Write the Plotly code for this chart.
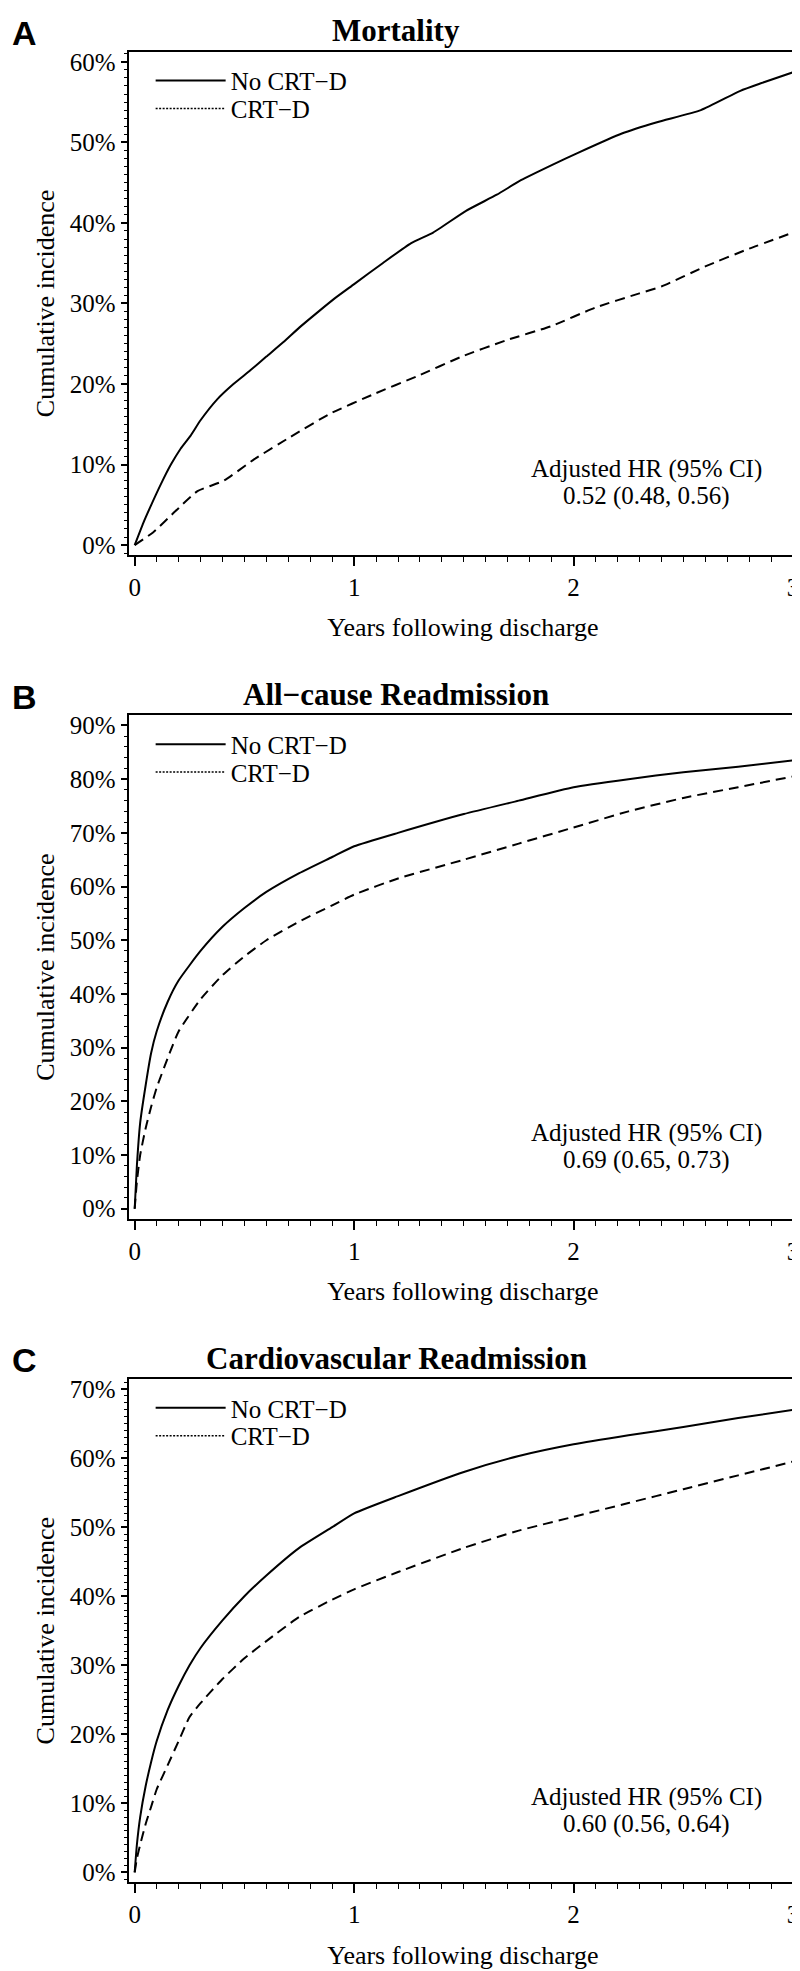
import plotly.graph_objects as go

# ---------------- data (years, cumulative incidence %) ----------------
mort_no_x = [0, 0.04, 0.074, 0.12, 0.165, 0.21, 0.255, 0.3, 0.376, 0.45, 0.527, 0.6, 0.678, 0.75, 0.829, 0.91, 1.0,
             1.13, 1.26, 1.36, 1.51, 1.65, 1.76, 1.91, 2.02, 2.22, 2.38, 2.58, 2.76, 2.85, 3.0]
mort_no_y = [0, 2.8, 4.9, 7.6, 10.0, 12.0, 13.6, 15.5, 18.1, 20.0, 21.7, 23.4, 25.2, 27.0, 28.8, 30.6, 32.4,
             35.0, 37.5, 38.8, 41.5, 43.5, 45.3, 47.3, 48.7, 51.1, 52.5, 54.0, 56.4, 57.3, 58.7]
mort_crt_x = [0, 0.085, 0.185, 0.286, 0.406, 0.547, 0.708, 0.889, 1.09, 1.29, 1.49, 1.69, 1.9, 2.1, 2.3, 2.4,
              2.6, 2.8, 3.0]
mort_crt_y = [0, 1.6, 4.2, 6.7, 8.0, 10.7, 13.4, 16.3, 18.75, 21.0, 23.4, 25.4, 27.2, 29.5, 31.25, 32.1,
              34.6, 36.8, 38.8]

allc_x = [0, 0.01, 0.025, 0.05, 0.075, 0.1, 0.15, 0.2, 0.3, 0.4, 0.5, 0.6, 0.75, 0.9, 1.0, 1.2, 1.5, 1.75,
          2.0, 2.25, 2.5, 2.75, 3.0]
allc_no_y = [0, 8, 16, 23, 29, 33, 38.5, 42.5, 48, 52.5, 56, 59, 62.5, 65.5, 67.5, 70, 73.5, 76,
             78.5, 80, 81.3, 82.3, 83.5]
allc_crt_y = [0, 5, 10, 15, 19, 22.5, 28, 33, 39, 43.5, 47, 50, 53.5, 56.5, 58.5, 61.5, 65, 68,
              71, 74, 76.5, 78.5, 80.5]

cv_x = [0, 0.01, 0.025, 0.05, 0.075, 0.1, 0.15, 0.2, 0.25, 0.3, 0.4, 0.5, 0.6, 0.75, 0.9, 1.0, 1.2, 1.5,
        1.75, 2.0, 2.25, 2.5, 2.75, 3.0]
cv_no_y = [0, 4, 8, 12.5, 16, 19, 23.5, 27, 30, 32.5, 36.5, 40, 43, 47, 50, 52, 54.5, 58,
           60.3, 62, 63.3, 64.5, 65.8, 67]
cv_crt_y = [0, 2, 4, 7, 9.5, 12, 15.5, 19, 22.5, 24.5, 28, 31, 33.5, 37, 39.5, 41, 43.5, 47,
            49.5, 51.5, 53.5, 55.5, 57.5, 59.5]

panel_letters = ["A", "B", "C"]
panel_titles = ["Mortality", "All\u2212cause Readmission", "Cardiovascular Readmission"]
hr_texts = ["0.52 (0.48, 0.56)", "0.69 (0.65, 0.73)", "0.60 (0.56, 0.64)"]
series_names = ["No CRT\u2212D", "CRT\u2212D"]
y_max = [0.6, 0.9, 0.7]
y_minor = [0.01, 0.02, 0.01]
x_ticks = [0, 1, 2, 3]

panels = [
    (mort_no_x, mort_no_y, mort_crt_x, mort_crt_y),
    (allc_x, allc_no_y, allc_x, allc_crt_y),
    (cv_x, cv_no_y, cv_x, cv_crt_y),
]

# ---------------- layout geometry (pixels) ----------------
W, H = 800, 1971
BOX_L, BOX_R = 121, 791
BOX_TOPS = [41, 707, 1373]
BOX_H = 505
PAD = 10  # px between box edge and first/last y tick
X0_PX, YEAR_PX = 127, 220.0

FONT = "Liberation Serif"
fig = go.Figure()


def py(p):
    return 1 - p / H


layout_upd = {}
annotations = []
for i, (nx, ny, cx, cy) in enumerate(panels):
    k = "" if i == 0 else str(i + 1)
    xa, ya = "x" + k, "y" + k
    lg1 = "legend" + ("" if i == 0 else str(2 * i + 1))
    lg2 = "legend" + str(2 * i + 2)
    fig.add_trace(go.Scatter(x=nx, y=[v / 100 for v in ny], mode="lines", xaxis=xa, yaxis=ya,
                             line=dict(color="black", width=2, shape="spline", smoothing=0.5),
                             showlegend=False, hoverinfo="skip"))
    fig.add_trace(go.Scatter(x=cx, y=[v / 100 for v in cy], mode="lines", xaxis=xa, yaxis=ya,
                             line=dict(color="black", width=2, dash="10px,6px", shape="spline", smoothing=0.5),
                             showlegend=False, hoverinfo="skip"))
    # legend-only entries
    fig.add_trace(go.Scatter(x=[None], y=[None], mode="lines", xaxis=xa, yaxis=ya, name=series_names[0],
                             line=dict(color="black", width=2), legend=lg1))
    fig.add_trace(go.Scatter(x=[None], y=[None], mode="lines", xaxis=xa, yaxis=ya, name=series_names[1],
                             line=dict(color="black", width=1.5, dash="2px,1.5px"), legend=lg2))

    top = BOX_TOPS[i]
    bot = top + BOX_H
    inner = BOX_H - 2 * PAD
    per = y_max[i] / inner
    yr = [-PAD * per, y_max[i] + PAD * per]
    xr = [(BOX_L - X0_PX) / YEAR_PX, (BOX_R - X0_PX) / YEAR_PX]

    layout_upd["xaxis" + k] = dict(
        domain=[BOX_L / W, BOX_R / W], range=xr, anchor=ya,
        tickvals=x_ticks, ticks="outside", ticklen=9, tickwidth=1.5, tickcolor="black",
        minor=dict(dtick=0.1, tick0=0, ticks="outside", ticklen=5, tickwidth=1.2, tickcolor="black"),
        showline=True, linewidth=2, linecolor="black", mirror=True, showgrid=False, zeroline=False,
        tickfont=dict(family=FONT, size=25, color="black"), ticklabeloverflow="allow",
        title=dict(text="Years following discharge", font=dict(family=FONT, size=26, color="black"),
                   standoff=18),
        fixedrange=True,
    )
    layout_upd["yaxis" + k] = dict(
        domain=[py(bot), py(top)], range=yr, anchor=xa,
        tick0=0, dtick=0.1, tickformat=".0%", ticks="outside", ticklen=6, tickwidth=1.5, tickcolor="black",
        minor=dict(dtick=y_minor[i], tick0=0, ticks="outside", ticklen=3, tickwidth=1.2, tickcolor="black"),
        showline=True, linewidth=2, linecolor="black", mirror=True, showgrid=False, zeroline=False,
        tickfont=dict(family=FONT, size=25, color="black"),
        title=dict(text="Cumulative incidence", font=dict(family=FONT, size=26, color="black"), standoff=8),
        fixedrange=True,
    )
    for lg, yc in ((lg1, top + 29), (lg2, top + 57)):
        layout_upd[lg] = dict(
            x=143 / W, xanchor="left", y=py(yc), yanchor="middle",
            bgcolor="rgba(0,0,0,0)", borderwidth=0, itemwidth=70,
            font=dict(family=FONT, size=25, color="black"), tracegroupgap=0,
        )
    # panel letter
    annotations.append(dict(text="<b>%s</b>" % panel_letters[i], x=2 / W, y=py(top - 19), xref="paper",
                            yref="paper", xanchor="left", yanchor="middle", showarrow=False,
                            font=dict(family="Liberation Sans", size=34, color="black")))
    # panel title
    annotations.append(dict(text="<b>%s</b>" % panel_titles[i], x=389 / W, y=py(top - 21), xref="paper",
                            yref="paper", xanchor="center", yanchor="middle", showarrow=False,
                            font=dict(family=FONT, size=31, color="black")))
    # HR annotation
    annotations.append(dict(text="Adjusted HR (95% CI)", x=640 / W, y=py(bot - 86), xref="paper",
                            yref="paper", xanchor="center", yanchor="middle", showarrow=False,
                            font=dict(family=FONT, size=25, color="black")))
    annotations.append(dict(text=hr_texts[i], x=640 / W, y=py(bot - 59), xref="paper",
                            yref="paper", xanchor="center", yanchor="middle", showarrow=False,
                            font=dict(family=FONT, size=25, color="black")))

fig.update_layout(**layout_upd)
fig.update_layout(
    width=W, height=H, autosize=False,
    margin=dict(l=0, r=0, t=0, b=0),
    paper_bgcolor="white", plot_bgcolor="white",
    annotations=annotations,
    font=dict(family=FONT, color="black"),
)

fig.write_html("out.html")
